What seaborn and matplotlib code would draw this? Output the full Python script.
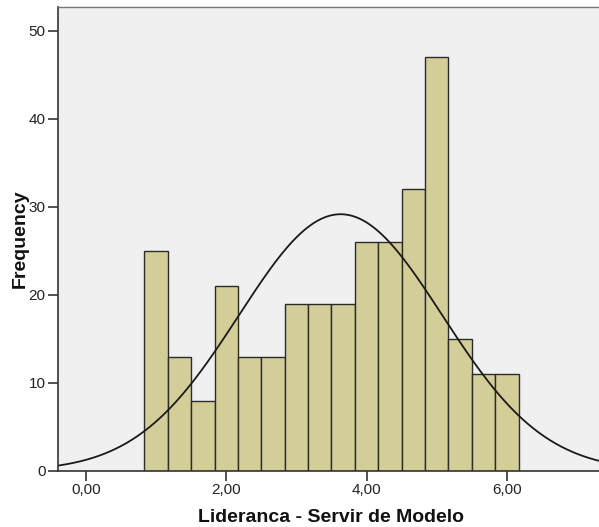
import numpy as np
import pandas as pd
import matplotlib
matplotlib.use("Agg")
import matplotlib.pyplot as plt
import seaborn as sns

# Data
bin_start = 5 / 6          # left edge of first bin
bin_width = 1 / 3
counts = [25, 13, 8, 21, 13, 13, 19, 19, 19, 26, 26, 32, 47, 15, 11, 11]
mean_val = 3.63
sd_val = 1.45
x_ticks = [0, 2, 4, 6]
x_tick_labels = ["0,00", "2,00", "4,00", "6,00"]
y_ticks = [0, 10, 20, 30, 40, 50]
x_label = "Lideranca - Servir de Modelo"
y_label = "Frequency"

sns.set_theme(style="white")
plt.rcParams['font.family'] = ['Liberation Sans', 'DejaVu Sans']

nb = len(counts)
centers = bin_start + bin_width * (np.arange(nb) + 0.5)
df = pd.DataFrame({"value": centers, "count": counts})

fig = plt.figure(figsize=(5.99, 5.27), dpi=100)
ax = fig.add_axes([58 / 599, 1 - 471 / 527, 1 - 58 / 599 + 0.01, (471 - 7) / 527])
ax.set_facecolor("#f0f0f0")

sns.histplot(data=df, x="value", weights="count",
             binwidth=bin_width, binrange=(bin_start, bin_start + nb * bin_width),
             ax=ax, color="#d3ce97", alpha=1, edgecolor="#2b2b2b", linewidth=1.0)

n = sum(counts)
xs = np.linspace(-0.5, 7.5, 400)
ys = n * bin_width * np.exp(-0.5 * ((xs - mean_val) / sd_val) ** 2) / (sd_val * np.sqrt(2 * np.pi))
ax.plot(xs, ys, color="#1a1a1a", linewidth=1.3)

ax.set_xlim(-0.4, 7.4)
ax.set_ylim(0, 52.7)
ax.set_xticks(x_ticks)
ax.set_xticklabels(x_tick_labels)
ax.set_yticks(y_ticks)
ax.tick_params(axis="both", direction="out", length=7, width=1.2, color="#333333",
               labelsize=11, labelcolor="#222222", pad=2, bottom=True, left=True)
for side in ["left", "bottom"]:
    ax.spines[side].set_color("#333333")
    ax.spines[side].set_linewidth(1.2)
ax.spines["top"].set_color("#777777")
ax.spines["top"].set_linewidth(1.0)
ax.spines["right"].set_visible(False)

ax.set_xlabel(x_label, fontsize=14, fontweight="bold", color="#111111", labelpad=8)
ax.set_ylabel(y_label, fontsize=14, fontweight="bold", color="#111111", labelpad=0)

fig.savefig("out.png", dpi=100, facecolor="white")
